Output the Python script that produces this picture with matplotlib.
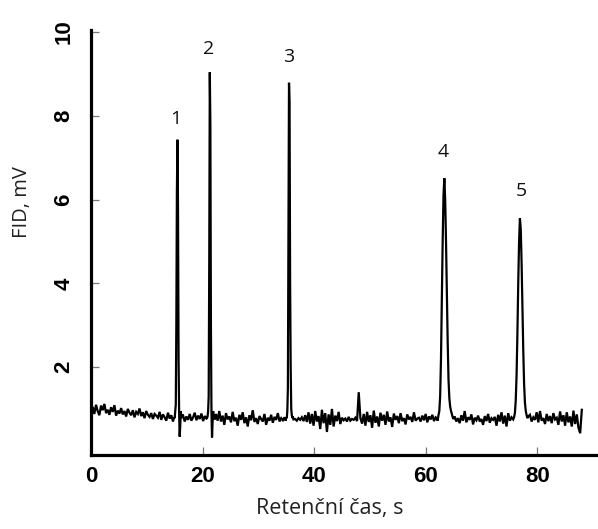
import numpy as np
import matplotlib
matplotlib.use("Agg")
import matplotlib.pyplot as plt

# ---- chromatogram data: (start time [s], sampling step [s], FID signal [mV]) ----
baseline_a = [0.92, 1.05, 0.88, 1.10, 0.95, 0.85, 1.08, 0.97, 1.12, 0.90,
              0.98, 0.86, 1.04, 0.93, 1.09, 0.84, 0.96, 0.89, 1.02, 0.87,
              0.95, 0.82, 1.00, 0.91, 0.85, 0.97, 0.80, 0.93, 0.88, 1.01,
              0.83, 0.92, 0.78, 0.95, 0.86, 0.81, 0.90, 0.76, 0.88, 0.84,
              0.79, 0.93, 0.74, 0.87, 0.80, 0.72, 0.91, 0.77, 0.85, 0.70]
peak_1 = [0.80, 0.78, 0.95, 1.10, 3.00, 6.20, 7.43, 5.80, 2.20, 0.90,
          0.34, 0.60, 0.95, 0.78, 0.85]
baseline_b = [0.85, 0.70, 0.82, 0.74, 0.88, 0.72, 0.80, 0.91, 0.73, 0.84,
              0.76, 0.89, 0.71, 0.83, 0.77]
peak_2 = [0.78, 0.82, 0.95, 1.30, 4.50, 9.04, 7.80, 3.00, 0.90, 0.32,
          0.70, 0.95, 0.80, 0.85, 0.75]
baseline_c = [0.88, 0.72, 0.95, 0.70, 0.84, 0.62, 0.90, 0.75, 0.82, 0.68,
              0.93, 0.71, 0.79, 0.60, 0.86, 0.74, 0.92, 0.66, 0.80, 0.58,
              0.85, 0.73, 0.97, 0.69, 0.78, 0.64, 0.83, 0.76, 0.70, 0.88,
              0.62, 0.79, 0.72, 0.86, 0.67, 0.81, 0.74, 0.90, 0.70, 0.78,
              0.73, 0.80]
peak_3 = [0.72, 0.80, 0.78, 0.95, 1.50, 5.50, 8.79, 8.30, 4.00, 2.00,
          1.00, 0.85, 0.78, 0.82, 0.75]
baseline_d = [0.76, 0.72, 0.78, 0.74, 0.80, 0.71, 0.85, 0.69, 0.92, 0.65,
              0.88, 0.60, 0.95, 0.70, 0.83, 0.52, 0.98, 0.66, 0.90, 0.45,
              0.87, 0.62, 1.00, 0.58, 0.84, 0.71, 0.93, 0.64, 0.79, 0.73,
              0.77, 0.70, 0.81, 0.72, 0.76, 0.74, 0.79, 0.71, 1.40, 0.78,
              0.65, 0.88, 0.60, 0.93, 0.69, 0.85, 0.55, 0.96, 0.67, 0.82,
              0.58, 0.91, 0.72, 0.86, 0.62, 0.94, 0.70, 0.80, 0.57, 0.89,
              0.74, 0.83, 0.66, 0.90, 0.71, 0.78, 0.63, 0.87, 0.75, 0.81,
              0.69, 0.92, 0.72, 0.77, 0.79, 0.70, 0.84, 0.73, 0.88, 0.68,
              0.82, 0.75, 0.86, 0.71, 0.80]
peak_4 = [0.78, 0.72, 0.85, 0.95, 1.30, 2.20, 3.60, 5.00, 6.10, 6.51,
          6.00, 5.00, 3.80, 2.60, 1.70, 1.25, 1.05, 0.95, 0.88, 0.80,
          0.76]
baseline_e = [0.82, 0.70, 0.78, 0.66, 0.85, 0.72, 0.95, 0.68, 0.80, 0.74,
              0.87, 0.63, 0.79, 0.73, 0.84, 0.70, 0.76, 0.62, 0.83, 0.71,
              0.88, 0.67, 0.78, 0.74, 0.81, 0.60, 0.86, 0.70, 0.92, 0.65,
              0.84, 0.58, 0.90, 0.72, 0.80]
peak_5 = [0.75, 0.80, 0.90, 1.20, 1.80, 2.80, 4.00, 5.00, 5.55, 5.30,
          4.50, 3.40, 2.40, 1.60, 1.15, 0.95, 0.85, 0.78, 0.82]
baseline_f = [0.86, 0.70, 0.80, 0.74, 0.92, 0.68, 0.95, 0.72, 0.78, 0.64,
              0.88, 0.71, 0.83, 0.66, 0.90, 0.75, 0.79, 0.62, 0.94, 0.70,
              0.85, 0.60, 0.92, 0.68, 0.82, 0.58, 0.96, 0.64, 0.87, 0.55,
              0.42, 0.98]

segments = [
    (0.0, 0.3, baseline_a),
    (14.9, 0.1, peak_1),
    (16.5, 0.3, baseline_b),
    (20.8, 0.1, peak_2),
    (22.4, 0.3, baseline_c),
    (34.9, 0.1, peak_3),
    (36.6, 0.3, baseline_d),
    (62.0, 0.15, peak_4),
    (65.2, 0.3, baseline_e),
    (75.7, 0.15, peak_5),
    (78.7, 0.3, baseline_f),
]

peak_numbers = ["1", "2", "3", "4", "5"]
label_x = [15.2, 21.0, 35.5, 63.1, 77.1]
label_y = [7.93, 9.60, 9.41, 7.14, 6.20]

x_ticks = [0, 20, 40, 60, 80]
y_ticks = [2, 4, 6, 8, 10]

# ---- assemble trace ----
t_parts, s_parts = [], []
for start, step, values in segments:
    values = np.asarray(values, dtype=float)
    t_parts.append(start + step * np.arange(len(values)))
    s_parts.append(values)
time = np.concatenate(t_parts)
signal = np.concatenate(s_parts)

# ---- figure ----
fig = plt.figure(figsize=(5.98, 5.29), dpi=100)
ax = fig.add_axes([91 / 598, 74 / 529, 507 / 598, 425 / 529])

ax.plot(time, signal, color="black", lw=1.6, solid_joinstyle="miter")

label_font = ["Open Sans", "DejaVu Sans"]
for txt, xx, yy in zip(peak_numbers, label_x, label_y):
    ax.text(xx, yy, txt, ha="center", va="center", fontsize=14,
            family=label_font, color="#111111")

ax.set_xlim(0, 90.9)
ax.set_ylim(-0.1, 10.05)

for side in ("top", "right"):
    ax.spines[side].set_visible(False)
for side in ("left", "bottom"):
    ax.spines[side].set_linewidth(2.3)
    ax.spines[side].set_color("black")

ax.set_xticks(x_ticks)
ax.set_xticklabels([str(v) for v in x_ticks], fontsize=16,
                   fontweight="bold", family="Liberation Sans")
ax.set_yticks(y_ticks)
ax.set_yticklabels([str(v) for v in y_ticks], fontsize=16,
                   fontweight="bold", family="Liberation Sans",
                   rotation=90, va="center")
ax.tick_params(axis="x", direction="in", length=6, width=0.9,
               color="#777777", pad=8)
ax.tick_params(axis="y", direction="in", length=6, width=0.9,
               color="#777777", pad=12)

ax.set_xlabel("Retenční čas, s", fontsize=15.5, family=label_font,
              color="#222222", va="center")
ax.xaxis.set_label_coords(0.471, -0.125)
ax.set_ylabel("FID, mV", fontsize=14.5, family=label_font,
              color="#222222", va="center")
ax.yaxis.set_label_coords(-0.136, 0.595)

fig.savefig("out.png", dpi=100)
